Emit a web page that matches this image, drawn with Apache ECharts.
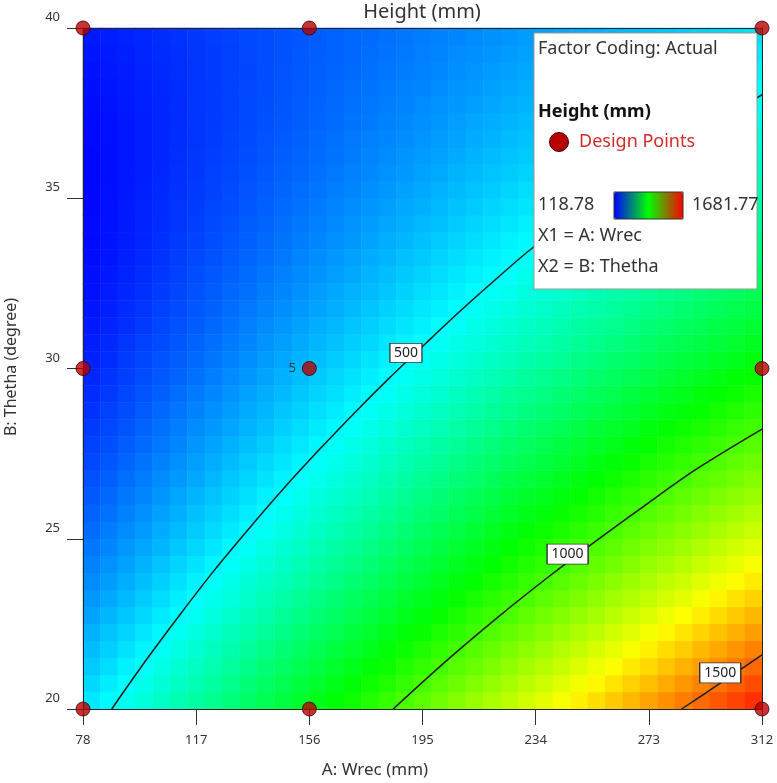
<!DOCTYPE html>
<html>
<head>
<meta charset="utf-8">
<script src="https://cdn.jsdelivr.net/npm/echarts@6/dist/echarts.min.js"></script>
<style>html,body{margin:0;padding:0;background:#fff}#c{width:777px;height:783px}</style>
</head>
<body>
<div id="c"></div>
<script>
// ---- data ----
// heatmap cell centres: A: Wrec (mm), 6 mm wide cells; B: Thetha (degree), 0.5 degree cells
const wrecCells = [81, 87, 93, 99, 105, 111, 117, 123, 129, 135, 141, 147, 153, 159, 165, 171, 177, 183, 189,
                   195, 201, 207, 213, 219, 225, 231, 237, 243, 249, 255, 261, 267, 273, 279, 285, 291, 297, 303, 309];
const thetaCells = [20.25, 20.75, 21.25, 21.75, 22.25, 22.75, 23.25, 23.75, 24.25, 24.75,
                    25.25, 25.75, 26.25, 26.75, 27.25, 27.75, 28.25, 28.75, 29.25, 29.75,
                    30.25, 30.75, 31.25, 31.75, 32.25, 32.75, 33.25, 33.75, 34.25, 34.75,
                    35.25, 35.75, 36.25, 36.75, 37.25, 37.75, 38.25, 38.75, 39.25, 39.75];
// Height (mm) estimated for each cell; one row per theta cell, bottom row (20.25) first
const heightRows = [
  [460,490,520,550,581,611,641,671,702,732,762,792,822,853,883,913,943,974,1004,1034,1064,1095,1125,1155,1185,1215,1246,1276,1306,1336,1367,1397,1427,1457,1488,1518,1548,1578,1608],
  [437,467,497,526,556,585,615,645,674,704,734,763,793,823,852,882,912,941,971,1001,1030,1060,1090,1119,1149,1179,1208,1238,1268,1297,1327,1357,1386,1416,1446,1475,1505,1535,1564],
  [415,444,473,503,532,561,590,619,648,677,706,735,764,794,823,852,881,910,939,968,997,1026,1055,1085,1114,1143,1172,1201,1230,1259,1288,1317,1346,1376,1405,1434,1463,1492,1521],
  [394,423,451,480,508,537,565,594,622,651,680,708,737,765,794,822,851,879,908,936,965,993,1022,1050,1079,1108,1136,1165,1193,1222,1250,1279,1307,1336,1364,1393,1421,1450,1478],
  [374,402,430,458,486,514,542,570,598,626,654,682,709,737,765,793,821,849,877,905,933,961,989,1017,1045,1073,1101,1129,1157,1185,1213,1241,1269,1297,1325,1353,1381,1409,1437],
  [354,382,409,437,464,491,519,546,574,601,628,656,683,711,738,765,793,820,848,875,902,930,957,985,1012,1039,1067,1094,1122,1149,1176,1204,1231,1259,1286,1313,1341,1368,1396],
  [335,362,389,416,443,470,496,523,550,577,604,631,658,684,711,738,765,792,819,845,872,899,926,953,980,1006,1033,1060,1087,1114,1141,1167,1194,1221,1248,1275,1302,1329,1355],
  [317,344,370,396,423,449,475,501,528,554,580,606,633,659,685,712,738,764,790,817,843,869,895,922,948,974,1001,1027,1053,1079,1106,1132,1158,1184,1211,1237,1263,1289,1316],
  [300,326,351,377,403,429,454,480,506,531,557,583,609,634,660,686,711,737,763,789,814,840,866,891,917,943,969,994,1020,1046,1071,1097,1123,1148,1174,1200,1226,1251,1277],
  [284,309,334,359,384,409,434,460,485,510,535,560,585,610,636,661,686,711,736,761,786,812,837,862,887,912,937,962,988,1013,1038,1063,1088,1113,1138,1163,1189,1214,1239],
  [268,292,317,341,366,391,415,440,464,489,513,538,563,587,612,636,661,686,710,735,759,784,808,833,858,882,907,931,956,980,1005,1030,1054,1079,1103,1128,1153,1177,1202],
  [253,277,301,325,349,373,397,421,445,469,493,517,541,565,589,613,637,661,685,709,733,757,781,805,829,853,877,901,925,949,973,997,1021,1045,1069,1093,1117,1141,1165],
  [238,262,285,309,332,356,379,402,426,449,473,496,520,543,567,590,614,637,660,684,707,731,754,778,801,825,848,871,895,918,942,965,989,1012,1036,1059,1083,1106,1129],
  [225,248,271,293,316,339,362,385,408,431,454,477,499,522,545,568,591,614,637,660,682,705,728,751,774,797,820,843,865,888,911,934,957,980,1003,1026,1049,1071,1094],
  [212,234,257,279,301,324,346,368,391,413,435,457,480,502,524,547,569,591,614,636,658,681,703,725,748,770,792,815,837,859,882,904,926,949,971,993,1015,1038,1060],
  [200,222,244,265,287,309,331,352,374,396,417,439,461,483,505,526,548,570,592,613,635,657,679,700,722,744,766,787,809,831,852,874,896,918,940,961,983,1005,1027],
  [189,210,231,252,273,295,316,337,358,379,400,422,443,464,485,506,528,549,570,591,612,634,655,676,697,718,740,761,782,803,824,845,867,888,909,930,951,973,994],
  [178,199,219,240,261,281,302,322,343,364,384,405,426,446,467,487,508,529,549,570,591,611,632,652,673,694,714,735,756,776,797,817,838,859,879,900,920,941,962],
  [168,188,208,228,249,269,289,309,329,349,369,389,409,429,449,469,489,509,529,549,569,590,610,630,650,670,690,710,730,750,770,790,810,830,850,870,890,910,931],
  [159,179,198,218,237,257,276,296,315,335,354,374,393,413,432,452,471,491,510,530,549,569,588,608,627,647,666,686,705,725,744,764,783,803,822,841,861,880,900],
  [151,170,189,208,227,246,265,283,302,321,340,359,378,397,416,435,454,473,492,511,530,548,567,586,605,624,643,662,681,700,719,738,757,776,795,814,832,851,870],
  [143,162,180,199,217,235,254,272,290,309,327,345,364,382,401,419,437,456,474,492,511,529,547,566,584,602,621,639,658,676,694,713,731,749,768,786,804,823,841],
  [137,154,172,190,208,226,243,261,279,297,315,332,350,368,386,404,421,439,457,475,493,510,528,546,564,582,599,617,635,653,671,688,706,724,742,760,777,795,813],
  [131,148,165,182,200,217,234,251,269,286,303,320,338,355,372,389,406,424,441,458,475,493,510,527,544,562,579,596,613,630,648,665,682,699,717,734,751,768,785],
  [125,142,159,175,192,209,225,242,259,275,292,309,325,342,359,375,392,409,425,442,459,475,492,509,525,542,559,575,592,609,625,642,659,675,692,709,725,742,759],
  [121,137,153,169,185,201,218,234,250,266,282,298,314,330,346,362,379,395,411,427,443,459,475,491,507,523,540,556,572,588,604,620,636,652,668,684,701,717,733],
  [117,133,148,164,179,195,210,226,241,257,272,288,304,319,335,350,366,381,397,412,428,443,459,474,490,506,521,537,552,568,583,599,614,630,645,661,676,692,708],
  [114,129,144,159,174,189,204,219,234,249,264,279,294,309,324,339,354,369,384,399,414,429,444,459,473,488,503,518,533,548,563,578,593,608,623,638,653,668,683],
  [112,126,141,155,169,184,198,213,227,242,256,270,285,299,314,328,342,357,371,386,400,414,429,443,458,472,487,501,515,530,544,559,573,587,602,616,631,645,659],
  [110,124,138,152,166,180,193,207,221,235,249,263,277,290,304,318,332,346,360,373,387,401,415,429,443,456,470,484,498,512,526,539,553,567,581,595,609,623,636],
  [110,123,136,149,163,176,189,203,216,229,242,256,269,282,296,309,322,335,349,362,375,388,402,415,428,442,455,468,481,495,508,521,535,548,561,574,588,601,614],
  [110,122,135,148,161,173,186,199,211,224,237,250,262,275,288,300,313,326,338,351,364,377,389,402,415,427,440,453,466,478,491,504,516,529,542,555,567,580,593],
  [110,122,135,147,159,171,183,195,208,220,232,244,256,268,280,293,305,317,329,341,353,365,378,390,402,414,426,438,451,463,475,487,499,511,523,536,548,560,572],
  [112,124,135,147,158,170,181,193,205,216,228,239,251,263,274,286,297,309,320,332,344,355,367,378,390,401,413,425,436,448,459,471,483,494,506,517,529,540,552],
  [114,125,136,147,158,169,180,191,202,213,224,235,246,257,268,279,290,301,312,323,335,346,357,368,379,390,401,412,423,434,445,456,467,478,489,500,511,522,533],
  [117,128,138,149,159,169,180,190,201,211,222,232,243,253,264,274,284,295,305,316,326,337,347,358,368,378,389,399,410,420,431,441,452,462,473,483,493,504,514],
  [121,131,141,151,160,170,180,190,200,210,220,230,240,250,259,269,279,289,299,309,319,329,339,348,358,368,378,388,398,408,418,428,437,447,457,467,477,487,497],
  [126,135,144,154,163,172,181,191,200,209,219,228,237,247,256,265,275,284,293,303,312,321,331,340,349,359,368,377,387,396,405,414,424,433,442,452,461,470,480],
  [131,140,148,157,166,175,183,192,201,210,218,227,236,245,253,262,271,280,288,297,306,315,323,332,341,350,359,367,376,385,394,402,411,420,429,437,446,455,464],
  [137,145,153,161,170,178,186,194,202,211,219,227,235,243,252,260,268,276,284,293,301,309,317,325,333,342,350,358,366,374,383,391,399,407,415,424,432,440,448]
];
// contour lines [A, B]
const contour500 = [[87.9, 20], [99.7, 21.43], [111.4, 22.77], [123.5, 24.10], [135.6, 25.34], [147.6, 26.52],
  [159.7, 27.64], [171.7, 28.71], [183.8, 29.74], [195.9, 30.72], [207.9, 31.68], [220.0, 32.60],
  [232.0, 33.48], [256.2, 35.04], [283.7, 36.59], [312, 38.04]];
const contour1000 = [[184.9, 20], [203.3, 21.42], [220.6, 22.67], [237.8, 23.84], [253.9, 24.88],
  [272.3, 26.02], [289.5, 27.05], [312, 28.22]];
const contour1500 = [[284.3, 20], [297.5, 20.75], [312, 21.59]];
// contour label anchors [A, B, level]
const contourLabels = [[189.3, 30.46, 500], [245.0, 24.55, 1000], [297.6, 21.06, 1500]];
// design points
const designWrec = [78, 156, 312, 78, 156, 312, 78, 156, 312];
const designTheta = [20, 20, 20, 30, 30, 30, 40, 40, 40];
const designReps = [1, 1, 1, 1, 5, 1, 1, 1, 1];
// axis ranges / ticks
const wrecMin = 78, wrecMax = 312, wrecStep = 39;
const thetaMin = 20, thetaMax = 40, thetaStep = 5;
const legendMin = 118.78, legendMax = 1681.77;

// ---- chart ----
const FONT = "'Noto Sans', 'Open Sans', sans-serif";
const heatData = [];
heightRows.forEach((row, j) => row.forEach((v, i) => heatData.push([i, j, v])));
const designData = designWrec.map((a, i) => [a, designTheta[i], designReps[i]]);

const lineStyle = { color: '#1a1f1f', width: 1.5 };
function contourSeries(d) {
  return { type: 'line', xAxisIndex: 1, yAxisIndex: 1, data: d, showSymbol: false, symbol: 'none',
           smooth: 0.3, lineStyle: lineStyle, z: 2, silent: true, clip: true };
}

const chart = echarts.init(document.getElementById('c'));
chart.setOption({
  animation: false,
  textStyle: { fontFamily: FONT },
  grid: { left: 83, top: 28, width: 679, height: 681, containLabel: false },
  xAxis: [
    { type: 'category', data: wrecCells, position: 'top', boundaryGap: true,
      axisLine: { show: true, lineStyle: { color: '#222', width: 1 } },
      axisTick: { show: false }, axisLabel: { show: false }, splitLine: { show: false }, z: 10 },
    { type: 'value', min: wrecMin, max: wrecMax, interval: wrecStep, position: 'bottom',
      axisLine: { show: true, onZero: false, lineStyle: { color: '#222', width: 1 } },
      axisTick: { show: true, length: 16, lineStyle: { color: '#333', width: 1 } },
      axisLabel: { margin: 25, fontSize: 13, color: '#333', fontFamily: FONT },
      splitLine: { show: false }, z: 10 }
  ],
  yAxis: [
    { type: 'category', data: thetaCells, position: 'right', boundaryGap: true,
      axisLine: { show: true, lineStyle: { color: '#222', width: 1 } },
      axisTick: { show: false }, axisLabel: { show: false }, splitLine: { show: false }, z: 10 },
    { type: 'value', min: thetaMin, max: thetaMax, interval: thetaStep, position: 'left',
      axisLine: { show: true, onZero: false, lineStyle: { color: '#222', width: 1 } },
      axisTick: { show: true, length: 16, lineStyle: { color: '#333', width: 1 } },
      axisLabel: { margin: 23, fontSize: 13, color: '#333', fontFamily: FONT,
                   verticalAlign: 'bottom', padding: [0, 0, 4, 0] },
      splitLine: { show: false }, z: 10 }
  ],
  visualMap: [
    { type: 'continuous', show: false, seriesIndex: 0, dimension: 2, min: 100, max: legendMax,
      inRange: { color: ['#0000ff', '#00ffff', '#00ff00', '#ffff00', '#ff0000'] } },
    { type: 'continuous', show: true, seriesIndex: 6, min: legendMin, max: legendMax,
      orient: 'horizontal', left: 614, top: 192, itemWidth: 27, itemHeight: 69,
      calculable: false, padding: 0, text: null, showLabel: false,
      inRange: { color: ['#0000ff', '#00ff00', '#ff0000'] }, z: 4 }
  ],
  graphic: [
    { type: 'text', x: 422, y: 12, z: 5, style: { text: 'Height (mm)', font: '20px ' + FONT, fill: '#333', align: 'center', verticalAlign: 'middle' } },
    { type: 'text', x: 375, y: 770, z: 5, style: { text: 'A: Wrec (mm)', font: '17px ' + FONT, fill: '#333', align: 'center', verticalAlign: 'middle' } },
    { type: 'text', x: 11, y: 367, rotation: Math.PI / 2, z: 5, style: { text: 'B: Thetha (degree)', font: '16px ' + FONT, fill: '#333', align: 'center', verticalAlign: 'middle' } },
    { type: 'rect', z: 3, shape: { x: 534, y: 33, width: 223, height: 256 }, style: { fill: '#fff', stroke: '#999', lineWidth: 1 } },
    { type: 'text', x: 538, y: 49, z: 5, style: { text: 'Factor Coding: Actual', font: '18px ' + FONT, fill: '#333', verticalAlign: 'middle' } },
    { type: 'text', x: 538, y: 112, z: 5, style: { text: 'Height (mm)', font: 'bold 18px ' + FONT, fill: '#111', verticalAlign: 'middle' } },
    { type: 'circle', z: 5, shape: { cx: 559, cy: 142, r: 9.5 }, style: { fill: '#b80000', stroke: '#3a0000', lineWidth: 1 } },
    { type: 'text', x: 579, y: 142, z: 5, style: { text: 'Design Points', font: '18px ' + FONT, fill: '#d42a2a', verticalAlign: 'middle' } },
    { type: 'text', x: 538, y: 205, z: 5, style: { text: String(legendMin), font: '18px ' + FONT, fill: '#333', verticalAlign: 'middle' } },
    { type: 'text', x: 692, y: 205, z: 5, style: { text: String(legendMax), font: '18px ' + FONT, fill: '#333', verticalAlign: 'middle' } },
    { type: 'rect', z: 6, shape: { x: 614, y: 192, width: 69, height: 27 }, style: { fill: 'none', stroke: '#333', lineWidth: 1 } },
    { type: 'text', x: 538, y: 236, z: 5, style: { text: 'X1 = A: Wrec', font: '18px ' + FONT, fill: '#333', verticalAlign: 'middle' } },
    { type: 'text', x: 538, y: 267, z: 5, style: { text: 'X2 = B: Thetha', font: '18px ' + FONT, fill: '#333', verticalAlign: 'middle' } }
  ],
  series: [
    { type: 'heatmap', xAxisIndex: 0, yAxisIndex: 0, data: heatData, z: 1, silent: true,
      emphasis: { disabled: true }, progressive: 0 },
    contourSeries(contour500),
    contourSeries(contour1000),
    contourSeries(contour1500),
    { type: 'scatter', xAxisIndex: 1, yAxisIndex: 1, data: contourLabels, z: 2.5, silent: true,
      symbol: 'rect', symbolSize: v => (v[2] >= 1000 ? [41, 20] : [32, 19]),
      itemStyle: { color: '#fff', borderColor: '#333', borderWidth: 1, opacity: 1 },
      label: { show: true, position: 'inside', formatter: p => String(p.value[2]), fontSize: 14, color: '#222',
               fontFamily: FONT } },
    { type: 'scatter', xAxisIndex: 1, yAxisIndex: 1, data: designData, symbolSize: 14, z: 10, clip: false, silent: true,
      itemStyle: { color: '#b80000', borderColor: '#3a0000', borderWidth: 1 },
      label: { show: true, position: 'left', distance: 6, formatter: p => (p.value[2] > 1 ? String(p.value[2]) : ''),
               fontSize: 13, color: '#222', fontFamily: FONT } },
    { type: 'scatter', xAxisIndex: 1, yAxisIndex: 1, data: [], silent: true }
  ]
});
</script>
</body>
</html>
